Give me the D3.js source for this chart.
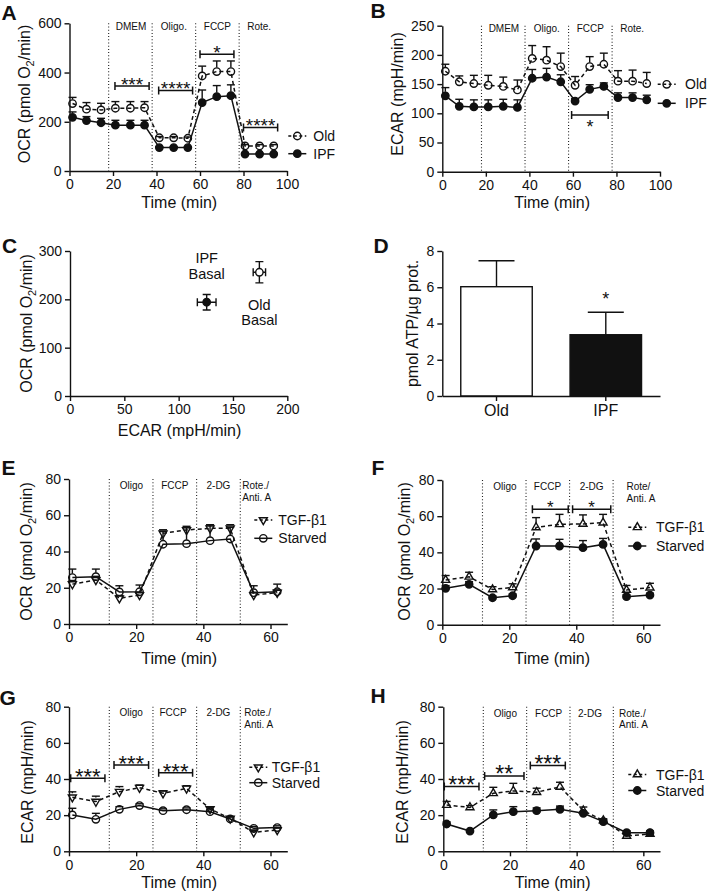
<!DOCTYPE html>
<html><head><meta charset="utf-8">
<script src="https://cdn.jsdelivr.net/npm/d3@7"></script>
<style>
body{margin:0;background:#fff}
svg text{font-family:Arial,"Liberation Sans",Helvetica,sans-serif;fill:#111}
</style></head><body>
<svg id="fig" width="709" height="895"></svg>
<script>
// ---------------- DATA ----------------
// Panels A/B (Seahorse, Old vs IPF)
const timesAB = [1.4, 7.8, 14.5, 21.1, 28, 34.5, 41.3, 47.9, 54.4, 61, 67.7, 74.2, 80.7, 87.4, 93.9];
const phasesAB = [18, 38, 58, 78];
const sectionsAB = [{t:"DMEM", x:28.3}, {t:"Oligo.", x:48}, {t:"FCCP", x:68}, {t:"Rote.", x:87.2}];
const ocrOld     = [274, 251, 248, 255, 255, 257, 135, 135, 133, 386, 404, 404, 102, 102, 102];
const ocrOldErr  = [25, 27, 27, 27, 27, 25, 5, 5, 5, 40, 43, 43, 5, 5, 5];
const ocrIPF     = [218, 205, 196, 186, 186, 186, 95, 95, 95, 278, 302, 306, 69, 69, 69];
const ocrIPFErr  = [22, 16, 18, 20, 20, 20, 3, 3, 3, 51, 45, 44, 3, 3, 3];
const ecarOld    = [172, 154, 151, 148, 146, 140, 194, 191, 180, 148, 180, 184, 155, 155, 151];
const ecarOldErr = [12, 10, 14, 17, 16, 17, 22, 23, 23, 15, 17, 19, 18, 19, 19];
const ecarIPF    = [130, 112, 111, 111, 112, 110, 160, 162, 154, 121, 141, 146, 127, 127, 123];
const ecarIPFErr = [14, 12, 12, 12, 12, 13, 15, 15, 12, 4, 8, 6, 8, 8, 8];
const bracketsA = [{x1:20.9, x2:36.6, y:345, t:"***"}, {x1:41, x2:56.6, y:327, t:"****"},
                   {x1:60, x2:75.6, y:474, t:"*"}, {x1:80, x2:95.7, y:177, t:"****"}];
const bracketsB = [{x1:59.4, x2:76.2, y:97, t:"*"}];
// Panel C (energy map)
const basalGroups = ["IPF", "Old"];
const basalEcar    = [125.8, 174.3];
const basalEcarErr = [8.6, 5.7];
const basalOcr     = [194, 256];
const basalOcrErr  = [16, 22];
// Panel D (ATP)
const atpGroups = ["Old", "IPF"];
const atpValues = [6.03, 3.38];
const atpErr    = [1.43, 1.24];
// Panels E-H (TGF-β1 vs Starved)
const timesEH = [1, 8, 15, 21, 28, 35, 42, 48, 55, 62];
const phasesEH = [12, 25, 38, 51];
const ocrTgfE        = [22, 24.3, 14.2, 16, 50, 51.9, 52.8, 52.8, 16, 17.3];
const ocrTgfErrE     = [2, 2, 1.5, 1.5, 2, 2, 2, 2, 1.5, 1.5];
const ocrStarvedE    = [25.6, 26.1, 17.7, 17.8, 44, 44.3, 46, 46.9, 17.3, 17.8];
const ocrStarvedErrE = [4.7, 4.2, 3.4, 3.7, 7, 8.8, 8.6, 6.4, 3.8, 4.2];
const ocrTgfF        = [24.7, 26.5, 19.5, 20.6, 53.8, 55.5, 55.7, 56.4, 19.2, 20.5];
const ocrTgfErrF     = [2.5, 2.5, 1.5, 2, 5.4, 5.5, 5, 4.6, 2.5, 2.4];
const ocrStarvedF    = [20.1, 22.3, 14.9, 16, 43.5, 43.5, 42.6, 44.4, 15.5, 16.4];
const ocrStarvedErrF = [1.5, 1.5, 1, 1, 3.9, 3.7, 3.9, 3.3, 1, 1];
const ecarTgfG        = [29.9, 27.5, 33, 35.2, 32.1, 34.8, 23.4, 18.2, 10.5, 11.8];
const ecarTgfErrG     = [3, 3, 2.8, 1.5, 1.4, 1.5, 1, 1, 1, 1];
const ecarStarvedG    = [20.1, 17.7, 23.2, 25.3, 22.5, 23, 21.9, 17.9, 12.7, 13.1];
const ecarStarvedErrG = [3.7, 3.3, 1.5, 1, 1, 1, 1, 1, 1, 1];
const ecarTgfH        = [25.6, 24.3, 32.1, 33.4, 32.7, 35.6, 22.5, 17, 8.5, 9.6];
const ecarTgfErrH     = [2, 1, 3.3, 4.2, 2.2, 2.6, 2, 1, 1, 1];
const ecarStarvedH    = [15.1, 11.2, 20.1, 21.9, 22.5, 23.2, 21, 16.4, 10.3, 10.3];
const ecarStarvedErrH = [1.2, 0.5, 2.8, 2.8, 1.5, 1.8, 1, 1, 1, 1];
const bracketsF = [{x1:26.9, x2:37.6, y:63.8, t:"*"}, {x1:38.9, x2:50.3, y:63.8, t:"*"}];
const bracketsG = [{x1:0.5, x2:10.7, y:40.4, t:"***"}, {x1:13.4, x2:23.7, y:47.7, t:"***"}, {x1:26.7, x2:36.8, y:43.5, t:"***"}];
const bracketsH = [{x1:0.3, x2:10.7, y:35.8, t:"***"}, {x1:12.4, x2:24.2, y:41.7, t:"**"}, {x1:26.1, x2:36.6, y:47.4, t:"***"}];
const ticks0to100 = [0, 20, 40, 60, 80, 100];
const ticks0to60 = [0, 20, 40, 60];
const ticks0to80 = [0, 20, 40, 60, 80];

// ---------------- DRAWING ----------------
const FF = 'Arial, "Liberation Sans", Helvetica, sans-serif';
const INK = "#111";
const R = 3.7;
const svg = d3.select("#fig");

function drawAxes(g, x, y, xticks, yticks, xfmt) {
  const ax = g.append("g").attr("transform", `translate(0,${y.range()[0]})`)
    .call(d3.axisBottom(x).tickValues(xticks).tickSize(5).tickPadding(3.5).tickSizeOuter(0).tickFormat(xfmt || d3.format("d")));
  const ay = g.append("g").attr("transform", `translate(${x.range()[0]},0)`)
    .call(d3.axisLeft(y).tickValues(yticks).tickSize(5).tickPadding(3).tickSizeOuter(0).tickFormat(d3.format("d")));
  [ax, ay].forEach(a => {
    a.attr("font-family", FF).attr("font-size", 14);
    a.select(".domain").attr("stroke", INK).attr("stroke-width", 1.4);
    a.selectAll(".tick line").attr("stroke", INK).attr("stroke-width", 1.4);
    a.selectAll(".tick text").attr("fill", INK);
  });
  return ax;
}

function marker(g, type, cx, cy, fill) {
  if (type === "circleOpen" || type === "circleFilled") {
    g.append("circle").attr("cx", cx).attr("cy", cy).attr("r", R)
      .attr("fill", type === "circleFilled" ? INK : (fill || "none"))
      .attr("stroke", INK).attr("stroke-width", 1.4);
  } else {
    const sym = d3.symbol().type(d3.symbolTriangle).size(28);
    g.append("path").attr("d", sym())
      .attr("transform", `translate(${cx},${cy}) rotate(${type === "triDown" ? 180 : 0})`)
      .attr("fill", fill || "none").attr("stroke", INK).attr("stroke-width", 1.4);
  }
}

function errUp(g, cx, y0, y1, r, hw) {
  if (y0 - r > y1) g.append("line").attr("x1", cx).attr("x2", cx).attr("y1", y0 - r).attr("y2", y1)
    .attr("stroke", INK).attr("stroke-width", 1.4);
  g.append("line").attr("x1", cx - hw).attr("x2", cx + hw).attr("y1", y1).attr("y2", y1)
    .attr("stroke", INK).attr("stroke-width", 1.4);
}

function yTitle(g, xb, yc, parts, fs) {
  const t = g.append("text").attr("transform", `translate(${xb},${yc}) rotate(-90)`)
    .attr("text-anchor", "middle").attr("font-size", fs || 16);
  parts.forEach(p => {
    if (p.sub) t.append("tspan").attr("dy", 4).attr("font-size", 11).text(p.s);
    else t.append("tspan").attr("dy", p.back ? -4 : 0).text(p.s);
  });
}
const ocrTitle = [{s:"OCR (pmol O"}, {s:"2", sub:true}, {s:"/min)", back:true}];
const ecarTitle = [{s:"ECAR (mpH/min)"}];

function letter(t, x, y) {
  svg.append("text").attr("x", x).attr("y", y).attr("font-size", 21).attr("font-weight", "bold").text(t);
}

function timePanel(c) {
  const g = svg.append("g");
  const x = d3.scaleLinear().domain(c.xd).range(c.xr);
  const y = d3.scaleLinear().domain(c.yd).range(c.yr);
  c.phases.forEach(p => g.append("line").attr("x1", x(p)).attr("x2", x(p))
    .attr("y1", c.yr[1]).attr("y2", c.yr[0]).attr("stroke", "#222")
    .attr("stroke-width", 1.1).attr("stroke-dasharray", "1,2.2"));
  c.labels.forEach(l => {
    [].concat(l.t).forEach((t, i) => g.append("text").attr("x", x(l.x)).attr("y", c.labelY + i * 11.5)
      .attr("text-anchor", l.anchor || "middle").attr("font-size", 10).text(t));
  });
  drawAxes(g, x, y, c.xticks, c.yticks);
  c.series.forEach(s => {
    const pts = s.x.map((t, i) => ({t, v: s.y[i], e: s.e[i]}));
    g.append("path").datum(pts)
      .attr("d", d3.line().x(d => x(d.t)).y(d => y(d.v)))
      .attr("fill", "none").attr("stroke", INK).attr("stroke-width", 1.5)
      .attr("stroke-dasharray", s.dash ? "4,3" : null);
    pts.forEach(d => errUp(g, x(d.t), y(d.v), y(d.v + d.e), 4, 4));
    pts.forEach(d => marker(g, s.marker, x(d.t), y(d.v)));
  });
  c.brackets.forEach(b => {
    const x1 = x(b.x1), x2 = x(b.x2), yy = y(b.y);
    g.append("path").attr("d", `M${x1},${yy - 4}V${yy + 4}M${x1},${yy}H${x2}M${x2},${yy - 4}V${yy + 4}`)
      .attr("stroke", INK).attr("stroke-width", 1.5).attr("fill", "none");
    g.append("text").attr("x", (x1 + x2) / 2).attr("y", yy + c.starDy + 0.58 * c.starFs)
      .attr("text-anchor", "middle").attr("font-size", c.starFs).text(b.t);
  });
  c.series.forEach((s, i) => {
    const ly = c.legend.ys[i], lx = c.legend.lx;
    g.append("line").attr("x1", lx - 9).attr("x2", lx + 9).attr("y1", ly).attr("y2", ly)
      .attr("stroke", INK).attr("stroke-width", 1.5).attr("stroke-dasharray", s.dash ? "3,2.5" : null);
    marker(g, s.marker, lx, ly);
    g.append("text").attr("x", c.legend.tx).attr("y", ly + 5).attr("font-size", 14).text(s.name);
  });
  yTitle(g, c.ytitle.x, c.ytitle.y, c.ytitle.parts);
  g.append("text").attr("x", (c.xr[0] + c.xr[1]) / 2 + 1).attr("y", c.xtitleY)
    .attr("text-anchor", "middle").attr("font-size", 16).text("Time (min)");
}

// Panel A
timePanel({xr:[69.5, 287], yr:[171, 23.3], xd:[0, 100], yd:[0, 600], xticks:ticks0to100, yticks:[0, 200, 400, 600],
  phases:phasesAB, labels:sectionsAB, labelY:29.8,
  series:[{x:timesAB, y:ocrOld, e:ocrOldErr, marker:"circleOpen", dash:true, name:"Old"},
          {x:timesAB, y:ocrIPF, e:ocrIPFErr, marker:"circleFilled", dash:false, name:"IPF"}],
  brackets:bracketsA, starFs:19, starDy:-6.5,
  legend:{lx:297.3, tx:313.3, ys:[136, 153.7]},
  ytitle:{x:30, y:94, parts:ocrTitle}, xtitleY:208});
letter("A", 1.5, 20);

// Panel B
timePanel({xr:[442.3, 660], yr:[171.7, 25.7], xd:[0, 100], yd:[0, 250], xticks:ticks0to100, yticks:[0, 50, 100, 150, 200, 250],
  phases:phasesAB, labels:sectionsAB, labelY:32,
  series:[{x:timesAB, y:ecarOld, e:ecarOldErr, marker:"circleOpen", dash:true, name:"Old"},
          {x:timesAB, y:ecarIPF, e:ecarIPFErr, marker:"circleFilled", dash:false, name:"IPF"}],
  brackets:bracketsB, starFs:18, starDy:7.7,
  legend:{lx:666.7, tx:685, ys:[84.3, 103.3]},
  ytitle:{x:403.3, y:94, parts:ecarTitle}, xtitleY:208});
letter("B", 370.5, 18);

// Panel C
(function () {
  const g = svg.append("g");
  const x = d3.scaleLinear().domain([0, 200]).range([70, 287.3]);
  const y = d3.scaleLinear().domain([0, 300]).range([396, 251]);
  drawAxes(g, x, y, [0, 50, 100, 150, 200], [0, 100, 200, 300]);
  basalGroups.forEach((grp, i) => {
    const cx = x(basalEcar[i]), cy = y(basalOcr[i]);
    const xl = x(basalEcar[i] - basalEcarErr[i]), xr = x(basalEcar[i] + basalEcarErr[i]);
    const yb = y(basalOcr[i] - basalOcrErr[i]), yt = y(basalOcr[i] + basalOcrErr[i]);
    g.append("path").attr("d", `M${xl},${cy}H${xr}M${xl},${cy - 4}V${cy + 4}M${xr},${cy - 4}V${cy + 4}` +
      `M${cx},${yb}V${yt}M${cx - 4},${yb}H${cx + 4}M${cx - 4},${yt}H${cx + 4}`)
      .attr("stroke", INK).attr("stroke-width", 1.4).attr("fill", "none");
    marker(g, grp === "IPF" ? "circleFilled" : "circleOpen", cx, cy, "#fff");
    const offs = grp === "IPF" ? [-39, -23.3] : [37.7, 52.7];
    [grp, "Basal"].forEach((t, k) => g.append("text").attr("x", cx).attr("y", cy + offs[k])
      .attr("text-anchor", "middle").attr("font-size", 14.5).text(t));
  });
  yTitle(g, 31.6, 323.5, ocrTitle);
  g.append("text").attr("x", 179.5).attr("y", 436).attr("text-anchor", "middle").attr("font-size", 16).text("ECAR (mpH/min)");
})();
letter("C", 2, 253);

// Panel D
(function () {
  const g = svg.append("g");
  const x = d3.scaleBand().domain(atpGroups).range([442.3, 660]).paddingInner(0.346).paddingOuter(0.169);
  const y = d3.scaleLinear().domain([0, 8]).range([396, 251]);
  atpGroups.forEach((grp, i) => {
    const x0 = x(grp), bw = x.bandwidth(), cx = x0 + bw / 2;
    errUp(g, cx, y(atpValues[i]), y(atpValues[i] + atpErr[i]), 0, 18);
    g.append("rect").attr("x", x0).attr("y", y(atpValues[i])).attr("width", bw)
      .attr("height", y(0) - y(atpValues[i])).attr("fill", i === 0 ? "#fff" : INK)
      .attr("stroke", INK).attr("stroke-width", 1.4);
  });
  const ax = drawAxes(g, x, y, atpGroups, [0, 2, 4, 6, 8], d => d);
  ax.attr("font-size", 16);
  g.append("text").attr("x", x("IPF") + x.bandwidth() / 2).attr("y", 295 + 0.58 * 18)
    .attr("text-anchor", "middle").attr("font-size", 18).text("*");
  yTitle(g, 418.3, 323.5, [{s:"pmol ATP/µg prot."}]);
})();
letter("D", 373.5, 253);

// Panel E
timePanel({xr:[69, 287.3], yr:[624, 479], xd:[0, 65], yd:[0, 80], xticks:ticks0to60, yticks:ticks0to80,
  phases:phasesEH, labelY:489,
  labels:[{t:"Oligo", x:18.6}, {t:"FCCP", x:31.5}, {t:"2-DG", x:44.5}, {t:["Rote./", "Anti. A"], x:51.6, anchor:"start"}],
  series:[{x:timesEH, y:ocrTgfE, e:ocrTgfErrE, marker:"triDown", dash:true, name:"TGF-β1"},
          {x:timesEH, y:ocrStarvedE, e:ocrStarvedErrE, marker:"circleOpen", dash:false, name:"Starved"}],
  brackets:[], starFs:17, starDy:-6,
  legend:{lx:263.3, tx:278.3, ys:[520, 538.3]},
  ytitle:{x:31.6, y:551.5, parts:ocrTitle}, xtitleY:663.5});
letter("E", 1.5, 475);

// Panel F
timePanel({xr:[442.3, 660], yr:[624.7, 480], xd:[0, 65], yd:[0, 80], xticks:ticks0to60, yticks:ticks0to80,
  phases:phasesEH, labelY:490,
  labels:[{t:"Oligo", x:18.7}, {t:"FCCP", x:31.4}, {t:"2-DG", x:44.6}, {t:["Rote/", "Anti. A"], x:55, anchor:"start"}],
  series:[{x:timesEH, y:ocrTgfF, e:ocrTgfErrF, marker:"triUp", dash:true, name:"TGF-β1"},
          {x:timesEH, y:ocrStarvedF, e:ocrStarvedErrF, marker:"circleFilled", dash:false, name:"Starved"}],
  brackets:bracketsF, starFs:17, starDy:-6,
  legend:{lx:637.3, tx:656, ys:[527.3, 546]},
  ytitle:{x:410, y:551.5, parts:ocrTitle}, xtitleY:663.5});
letter("F", 371.5, 475);

// Panel G
timePanel({xr:[69, 287.3], yr:[851.3, 706.7], xd:[0, 65], yd:[0, 80], xticks:ticks0to60, yticks:ticks0to80,
  phases:phasesEH, labelY:716,
  labels:[{t:"Oligo", x:18.5}, {t:"FCCP", x:31}, {t:"2-DG", x:44.5}, {t:["Rote./", "Anti. A"], x:52.2, anchor:"start"}],
  series:[{x:timesEH, y:ecarTgfG, e:ecarTgfErrG, marker:"triDown", dash:true, name:"TGF-β1"},
          {x:timesEH, y:ecarStarvedG, e:ecarStarvedErrG, marker:"circleOpen", dash:false, name:"Starved"}],
  brackets:bracketsG, starFs:22, starDy:-6.6,
  legend:{lx:258.3, tx:271.7, ys:[767.3, 782.7]},
  ytitle:{x:33.3, y:782, parts:ecarTitle}, xtitleY:888});
letter("G", -0.5, 705);

// Panel H
timePanel({xr:[443.3, 660], yr:[851.3, 706.7], xd:[0, 65], yd:[0, 80], xticks:ticks0to60, yticks:ticks0to80,
  phases:phasesEH, labelY:716.5,
  labels:[{t:"Oligo", x:18.6}, {t:"FCCP", x:31.6}, {t:"2-DG", x:44}, {t:["Rote./", "Anti. A"], x:52.7, anchor:"start"}],
  series:[{x:timesEH, y:ecarTgfH, e:ecarTgfErrH, marker:"triUp", dash:true, name:"TGF-β1"},
          {x:timesEH, y:ecarStarvedH, e:ecarStarvedErrH, marker:"circleFilled", dash:false, name:"Starved"}],
  brackets:bracketsH, starFs:23, starDy:-7.4,
  legend:{lx:637.3, tx:656, ys:[774.5, 790.5]},
  ytitle:{x:408, y:782, parts:ecarTitle}, xtitleY:888});
letter("H", 370.5, 703);
</script>
</body></html>
